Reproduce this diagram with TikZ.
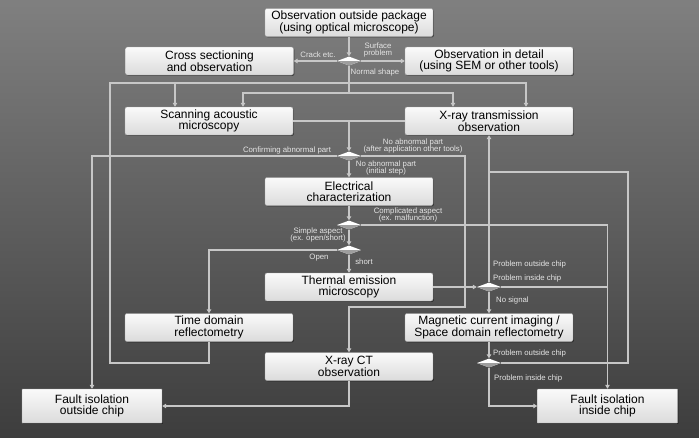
\documentclass[tikz,border=0pt]{standalone}
\usepackage{fontspec}
\setmainfont{Liberation Sans}
\usetikzlibrary{arrows.meta,shadows,shapes.geometric}

\definecolor{wirec}{gray}{0.78}
\definecolor{tagc}{gray}{0.9}

\tikzset{
  stage/.style={draw=black!35, top color=black!2, bottom color=black!14, rounded corners=2pt,
    minimum width=168pt, minimum height=28pt, inner sep=1pt, align=center, text=black,
    font=\fontsize{12}{11.5}\selectfont,
    drop shadow={shadow xshift=0.9pt, shadow yshift=-0.9pt, fill=black, opacity=0.45}},
  result/.style={stage, minimum width=140pt, minimum height=34pt, rounded corners=0.5pt},
  gate/.style={diamond, shape aspect=2.6, minimum width=24pt, minimum height=9pt, inner sep=0pt,
    fill=white, path picture={\fill[black!38] (path picture bounding box.west) rectangle (path picture bounding box.south east);}},
  wire/.style={draw=wirec, line width=1.2pt},
  link/.style={wire, -{Triangle[width=4.5pt,length=4pt]}},
  tag/.style={text=tagc, font=\fontsize{7.8}{7.5}\selectfont, align=center, inner sep=0pt}
}

\begin{document}
\begin{tikzpicture}[x=1pt,y=-1pt]
  \useasboundingbox (0,0) rectangle (699,437);
  \fill[top color=black!50, bottom color=black!76] (0,0) rectangle (699,437);

  % boxes
  \node[stage] (outside) at (349,22.5) {Observation outside package\\(using optical microscope)};
  \node[stage] (cross) at (209.5,61) {Cross sectioning\\and observation};
  \node[stage] (detail) at (489,61) {Observation in detail\\(using SEM or other tools)};
  \node[stage] (sam) at (209,121) {Scanning acoustic\\microscopy};
  \node[stage] (xtrans) at (489,121) {X-ray transmission\\observation};
  \node[stage] (elec) at (349,191.5) {Electrical\\characterization};
  \node[stage] (tem) at (349,287) {Thermal emission\\microscopy};
  \node[stage] (tdr) at (209,327.5) {Time domain\\reflectometry};
  \node[stage] (mci) at (489,327.5) {Magnetic current imaging /\\Space domain reflectometry};
  \node[stage] (xct) at (349,366.5) {X-ray CT\\observation};
  \node[result] (fio) at (92,406) {Fault isolation\\outside chip};
  \node[result] (fii) at (607.5,406) {Fault isolation\\inside chip};

  % decisions
  \node[gate] (g1) at (349,61) {};
  \node[gate] (g2) at (349,156) {};
  \node[gate] (g3) at (349,225) {};
  \node[gate] (g4) at (349,250) {};
  \node[gate] (g5) at (489,287) {};
  \node[gate] (g6) at (489,363) {};

  \coordinate (fork) at (349,93);
  \coordinate (forkL) at (243,93);
  \coordinate (forkR) at (453,93);
  \coordinate (fbB) at (110,363);
  \coordinate (fbL) at (110,83);
  \coordinate (fbA) at (175,83);
  \coordinate (fbR) at (526,83);
  \coordinate (merge) at (349,121);
  \coordinate (ctB) at (465,307);
  \coordinate (outR) at (628,172);

  % connectors
  \draw[link] (outside) -- (g1);
  \draw[link] (g1) -- (cross);
  \draw[link] (g1) -- (detail);
  \draw[wire] (g1) -- (fork);
  \draw[link] (fork) -- (forkL) -- (forkL |- sam.north);
  \draw[link] (fork) -- (forkR) -- (forkR |- xtrans.north);
  \draw[link] (tdr.south) |- (fbB) -- (fbL) -| (fbR |- xtrans.north);
  \draw[link] (fbA) -- (fbA |- sam.north);
  \draw[wire] (sam.east) -- (xtrans.west);
  \draw[link] (merge) -- (g2);
  \draw[link] (g2.west) -| (fio.north);
  \draw[link] (g2.east) -| (ctB) -| (xct.north);
  \draw[link] (g2) -- (elec);
  \draw[link] (elec) -- (g3);
  \draw[link] (g3.east) -| (fii.north);
  \draw[link] (g3) -- (g4);
  \draw[link] (g4.west) -| (tdr.north);
  \draw[link] (g4) -- (tem);
  \draw[link] (tem) -- (g5);
  \draw[link] (g5) -- (xtrans);
  \draw[wire] (g5.east) -- (g5.east -| fii.north);
  \draw[link] (g5) -- (mci);
  \draw[link] (mci) -- (g6);
  \draw[wire] (g6.east) -| (outR) -- (outR -| g5);
  \draw[link] (g6.south) |- (fii.west);
  \draw[link] (xct.south) |- (fio.east);

  % labels
  \node[tag] (lsurf) at (378,50) {Surface\\problem};
  \node[tag] (lcrack) at (318,55) {Crack etc.};
  \node[tag] (lnorm) at (375,72) {Normal shape};
  \node[tag] (lconf) at (287,150) {Confirming abnormal part};
  \node[tag] (lafter) at (413,146) {No abnormal part\\(after application other tools)};
  \node[tag] (linit) at (386,168) {No abnormal part\\(initial step)};
  \node[tag] (lcomp) at (408,215) {Complicated aspect\\(ex. malfunction)};
  \node[tag] (lsimp) at (318,235) {Simple aspect\\(ex. open/short)};
  \node[tag] (lopen) at (319,258) {Open};
  \node[tag] (lshort) at (364,262) {short};
  \node[tag, anchor=west] (lout1) at (493,264) {Problem outside chip};
  \node[tag, anchor=west] (lin1) at (493,278) {Problem inside chip};
  \node[tag, anchor=west] (lnosig) at (496,300) {No signal};
  \node[tag, anchor=west] (lout2) at (493,353) {Problem outside chip};
  \node[tag, anchor=west] (lin2) at (494,378) {Problem inside chip};
\end{tikzpicture}
\end{document}
